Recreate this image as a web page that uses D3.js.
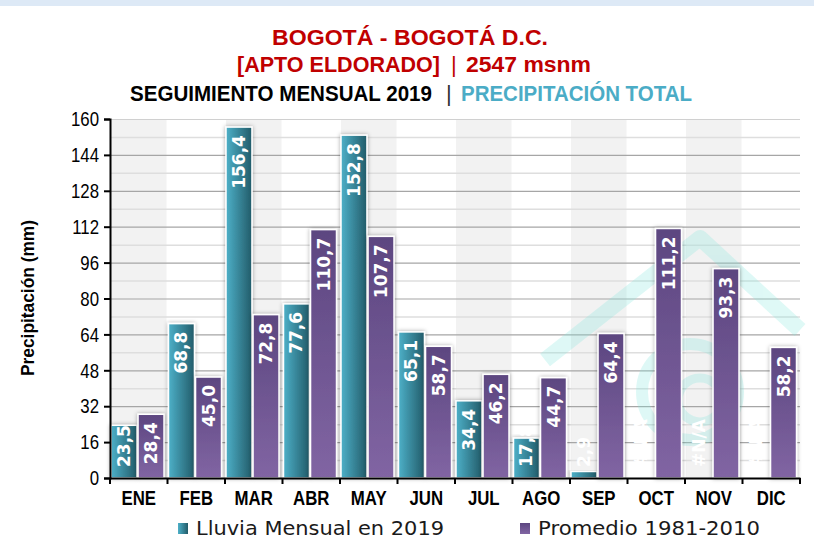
<!doctype html>
<html lang="es">
<head>
<meta charset="utf-8">
<style>
  body { margin: 0; background: #fff; }
  svg { display: block; }
</style>
</head>
<body>
<script src="https://d3js.org/d3.v7.min.js"></script>
<div id="chart"></div>
<script>
  // data
  var months = ['ENE', 'FEB', 'MAR', 'ABR', 'MAY', 'JUN', 'JUL', 'AGO', 'SEP', 'OCT', 'NOV', 'DIC'];
  var lluvia2019 = [23.5, 68.8, 156.4, 77.6, 152.8, 65.1, 34.4, 17.8, 2.9, null, null, null];
  var promedio = [28.4, 45.0, 72.8, 110.7, 107.7, 58.7, 46.2, 44.7, 64.4, 111.2, 93.3, 58.2];
  var seriesNames = ['Lluvia Mensual en 2019', 'Promedio 1981-2010'];
  var yTicks = [0, 16, 32, 48, 64, 80, 96, 112, 128, 144, 160];

  var width = 814, height = 549;
  var pLeft = 110, pRight = 800, pTop = 119, pBottom = 478;

  var svg = d3.select('#chart').append('svg')
    .attr('width', width)
    .attr('height', height);

  var defs = svg.append('defs');
  var tealGrad = defs.append('linearGradient').attr('id', 'teal')
    .attr('x1', 0).attr('y1', 0).attr('x2', 1).attr('y2', 0);
  tealGrad.append('stop').attr('offset', '0%').attr('stop-color', '#4db0c8');
  tealGrad.append('stop').attr('offset', '100%').attr('stop-color', '#225b69');
  var purpGrad = defs.append('linearGradient').attr('id', 'purp')
    .attr('x1', 0).attr('y1', 0).attr('x2', 0).attr('y2', 1);
  purpGrad.append('stop').attr('offset', '0%').attr('stop-color', '#5c4680');
  purpGrad.append('stop').attr('offset', '100%').attr('stop-color', '#8165a3');
  var shadow = defs.append('filter').attr('id', 'shadow')
    .attr('x', '-30%').attr('y', '-10%').attr('width', '160%').attr('height', '120%');
  shadow.append('feDropShadow').attr('dx', 0).attr('dy', 0).attr('stdDeviation', 2)
    .attr('flood-color', '#000').attr('flood-opacity', 0.35);

  // squeeze a text to a share of its natural width
  function squeeze(sel, k) {
    sel.each(function () {
      var w = this.getComputedTextLength();
      d3.select(this).attr('textLength', w * k).attr('lengthAdjust', 'spacingAndGlyphs');
    });
  }

  // light band across the top
  svg.append('rect').attr('x', 0).attr('y', 0).attr('width', width).attr('height', 6)
    .attr('fill', '#dde9f6');

  // titles, each piece stretched to the width it has in the reference
  var titleFont = "'Liberation Sans', Arial, sans-serif";
  var titleParts = [
    { t: 'BOGOTÁ - BOGOTÁ D.C.', x: 272, w: 276, y: 45, c: '#c00000', b: true },
    { t: '[APTO ELDORADO]', x: 237, w: 203, y: 72, c: '#c00000', b: true },
    { t: '|', x: 451, w: 0, y: 72, c: '#c00000', b: false },
    { t: '2547 msnm', x: 466, w: 125, y: 72, c: '#c00000', b: true },
    { t: 'SEGUIMIENTO MENSUAL 2019', x: 130, w: 302, y: 101, c: '#000', b: true },
    { t: '|', x: 446, w: 0, y: 101, c: '#333', b: false },
    { t: 'PRECIPITACIÓN TOTAL', x: 461, w: 231, y: 101, c: '#4bacc6', b: true }
  ];
  svg.append('g').selectAll('text').data(titleParts).enter().append('text')
    .attr('x', function (d) { return d.x; })
    .attr('y', function (d) { return d.y; })
    .attr('textLength', function (d) { return d.w || null; })
    .attr('lengthAdjust', 'spacingAndGlyphs')
    .style('font-family', titleFont)
    .style('font-weight', function (d) { return d.b ? 'bold' : 'normal'; })
    .style('font-size', '22px')
    .attr('fill', function (d) { return d.c; })
    .text(function (d) { return d.t; });

  // scales
  var x = d3.scaleBand().domain(months).range([pLeft, pRight]).padding(0);
  var xs = d3.scaleBand().domain(seriesNames).range([1, x.bandwidth() - 3.5]).paddingInner(0.04);
  var y = d3.scaleLinear().domain([0, 160]).range([pBottom, pTop]);

  // alternating background columns
  svg.append('g').selectAll('rect').data(months.filter(function (d, i) { return i % 2 === 0; }))
    .enter().append('rect')
    .attr('x', function (d) { return x(d) + 1; })
    .attr('y', pTop)
    .attr('width', x.bandwidth() - 2)
    .attr('height', pBottom - pTop)
    .attr('fill', '#f2f2f2');

  // gridlines
  var minor = d3.range(8, 161, 16);
  svg.append('g').selectAll('line').data(minor).enter().append('line')
    .attr('x1', pLeft).attr('x2', pRight)
    .attr('y1', function (d) { return y(d) + 0.5; }).attr('y2', function (d) { return y(d) + 0.5; })
    .attr('stroke', '#dedede').attr('stroke-width', 1.5);
  svg.append('g').selectAll('line').data(yTicks.slice(1)).enter().append('line')
    .attr('x1', pLeft).attr('x2', pRight)
    .attr('y1', function (d) { return y(d) + 0.5; }).attr('y2', function (d) { return y(d) + 0.5; })
    .attr('stroke', function (d) { return d === 160 ? '#d0d0d0' : '#a6a6a6'; })
    .attr('stroke-width', 1.2);

  // faint watermark logo
  var wm = svg.append('g').attr('opacity', 0.25).attr('fill', 'none').attr('stroke', '#7fe6dc');
  wm.append('path').attr('d', 'M545,360 L700,238 L800,330')
    .attr('stroke-width', 16).attr('stroke-linejoin', 'round');
  wm.append('circle').attr('cx', 690).attr('cy', 392).attr('r', 48).attr('stroke-width', 12);
  wm.append('circle').attr('cx', 700).attr('cy', 400).attr('r', 22).attr('stroke-width', 9);

  // bars
  var rows = months.map(function (m, i) {
    return { month: m, vals: [lluvia2019[i], promedio[i]] };
  });
  var grads = ['url(#teal)', 'url(#purp)'];
  var fmt = function (v) { return v.toFixed(1).replace('.', ','); };

  var groups = svg.append('g').selectAll('g').data(rows).enter().append('g')
    .attr('transform', function (d) { return 'translate(' + x(d.month) + ',0)'; });

  groups.selectAll('rect').data(function (d) {
    return d.vals.map(function (v, k) { return { v: v, k: k }; }).filter(function (e) { return e.v !== null; });
  }).enter().append('rect')
    .attr('x', function (e) { return xs(seriesNames[e.k]); })
    .attr('y', function (e) { return y(e.v); })
    .attr('width', xs.bandwidth())
    .attr('height', function (e) { return pBottom - y(e.v); })
    .attr('fill', function (e) { return grads[e.k]; })
    .attr('stroke', '#fff').attr('stroke-width', 1.5)
    .attr('filter', 'url(#shadow)');

  // value labels, rotated inside the bars
  var isInside = function (e) { return e.v !== null && pBottom - y(e.v) > 60; };
  groups.selectAll('text').data(function (d) {
    return d.vals.map(function (v, k) { return { v: v, k: k }; });
  }).enter().append('text')
    .attr('transform', function (e) {
      var cx = xs(seriesNames[e.k]) + xs.bandwidth() / 2 + 6;
      var ty = isInside(e) ? y(e.v) + 8 : pBottom - 11;
      return 'translate(' + cx + ',' + ty + ') rotate(-90)';
    })
    .attr('text-anchor', function (e) { return isInside(e) ? 'end' : 'start'; })
    .style('font-family', "'DejaVu Sans', sans-serif")
    .style('font-size', '17px')
    .style('font-weight', 600)
    .attr('fill', '#fff')
    .text(function (e) { return e.v === null ? '#N/A' : fmt(e.v); });

  // axes
  var yAxis = d3.axisLeft(y).tickValues(yTicks).tickSize(6).tickPadding(5);
  var gy = svg.append('g').attr('transform', 'translate(' + pLeft + ',0)').call(yAxis);
  gy.select('.domain').attr('stroke', '#000').attr('stroke-width', 2);
  gy.selectAll('.tick line').attr('stroke', '#000').attr('stroke-width', 2);
  gy.selectAll('.tick text').attr('fill', '#000')
    .style('font-family', "'Liberation Sans', Arial, sans-serif")
    .style('font-size', '21px')
    .call(squeeze, 0.8);

  var xAxis = d3.axisBottom(x).tickSize(0).tickPadding(13);
  var gx = svg.append('g').attr('transform', 'translate(0,' + pBottom + ')').call(xAxis);
  gx.select('.domain').attr('stroke', '#000').attr('stroke-width', 2);
  gx.selectAll('.tick text').attr('fill', '#000')
    .style('font-family', "'Liberation Sans', Arial, sans-serif").style('font-weight', 'bold').style('font-size', '20px')
    .call(squeeze, 0.84);
  // boundary tick marks between months
  gx.append('g').selectAll('line').data(months.concat(['end'])).enter().append('line')
    .attr('x1', function (d, i) { return pLeft + i * x.bandwidth(); })
    .attr('x2', function (d, i) { return pLeft + i * x.bandwidth(); })
    .attr('y1', 0).attr('y2', 6)
    .attr('stroke', '#000').attr('stroke-width', 2);

  // y axis title
  svg.append('text')
    .attr('transform', 'translate(34,298) rotate(-90)')
    .attr('text-anchor', 'middle')
    .style('font-family', "'Liberation Sans', Arial, sans-serif").style('font-weight', 'bold').style('font-size', '19px')
    .attr('textLength', 156).attr('lengthAdjust', 'spacingAndGlyphs')
    .text('Precipitación (mm)');

  // legend
  var legX = [178, 520];
  var leg = svg.append('g').selectAll('g').data(seriesNames).enter().append('g')
    .attr('transform', function (d, i) { return 'translate(' + legX[i] + ',523)'; });
  leg.append('rect').attr('width', 10).attr('height', 11)
    .attr('fill', function (d, i) { return grads[i]; });
  leg.append('text').attr('x', 18).attr('y', 12)
    .style('font-family', "'DejaVu Sans', sans-serif").style('font-size', '20px')
    .attr('fill', '#1a1a1a')
    .attr('textLength', function (d, i) { return i === 0 ? 248 : 222; })
    .attr('lengthAdjust', 'spacingAndGlyphs')
    .text(function (d) { return d; });
</script>
</body>
</html>
